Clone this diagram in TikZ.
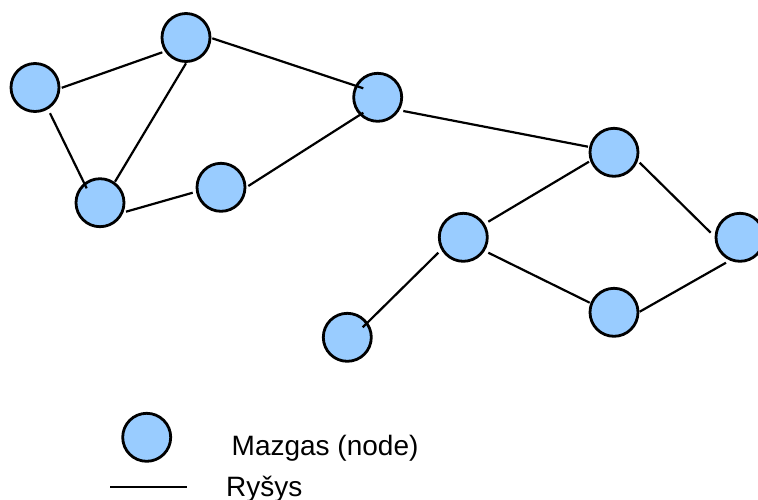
\documentclass[tikz,border=0pt]{standalone}
\usepackage{fontspec}
\setmainfont{Liberation Sans}
\usetikzlibrary{calc}
\definecolor{nodeblue}{HTML}{99CCFF}
\begin{document}
\begin{tikzpicture}[x=1pt,y=-1pt,
  vertex/.style={circle,draw=black,fill=nodeblue,line width=2.8pt,minimum size=48pt,inner sep=0pt},
  link/.style={draw=black,line width=2.2pt},
  legendtext/.style={anchor=base west,inner sep=0pt,font=\fontsize{28}{34}\selectfont}]
\useasboundingbox (0,0) rectangle (758,499);
% nodes
\node[vertex] (A) at (186,37.5) {};
\node[vertex] (B) at (35,87.5) {};
\node[vertex] (C) at (377.7,97.3) {};
\node[vertex] (D) at (100,202.7) {};
\node[vertex] (E) at (221,187.3) {};
\node[vertex] (F) at (614,152.3) {};
\node[vertex] (G) at (463.3,237.3) {};
\node[vertex] (H) at (740,237.3) {};
\node[vertex] (I) at (614,312.3) {};
\node[vertex] (J) at (347.3,337.3) {};
% links
\draw[link] ($(B)+(26.7,0.3)$) -- ($(A)+(-23.7,14.8)$);
\draw[link] ($(B)+(15,25.7)$) -- ($(D)+(-13.3,-14.4)$);
\draw[link] ($(A)+(0,25.8)$) -- ($(D)+(15,-21)$);
\draw[link] ($(A)+(26.3,0.8)$) -- ($(C)+(-14.4,-9)$);
\draw[link] ($(D)+(26,9)$) -- ($(E)+(-28.3,5.4)$);
\draw[link] ($(E)+(27.3,-1.3)$) -- ($(C)+(-14.4,15.4)$);
\draw[link] ($(C)+(25.6,13.7)$) -- ($(F)+(-26,-5.6)$);
\draw[link] ($(F)+(-25,9.4)$) -- ($(G)+(25,-15.6)$);
\draw[link] ($(F)+(25.7,10.4)$) -- ($(H)+(-29.3,-4.6)$);
\draw[link] ($(G)+(25,15.4)$) -- ($(I)+(-24.3,-9.6)$);
\draw[link] ($(I)+(25.7,-0.6)$) -- ($(H)+(-14,25.4)$);
\draw[link] ($(G)+(-25,15.4)$) -- ($(J)+(15.4,-10)$);
% legend
\node[vertex] (L) at (146.7,437.3) {};
\node[legendtext] (Ltext) at (231.5,455) {Mazgas (node)};
\coordinate (R1) at (110,487.3);
\coordinate (R2) at (186.7,487.3);
\draw[link] (R1) -- (R2);
\node[legendtext] (Rtext) at (226,496) {Ryšys};
\end{tikzpicture}
\end{document}
